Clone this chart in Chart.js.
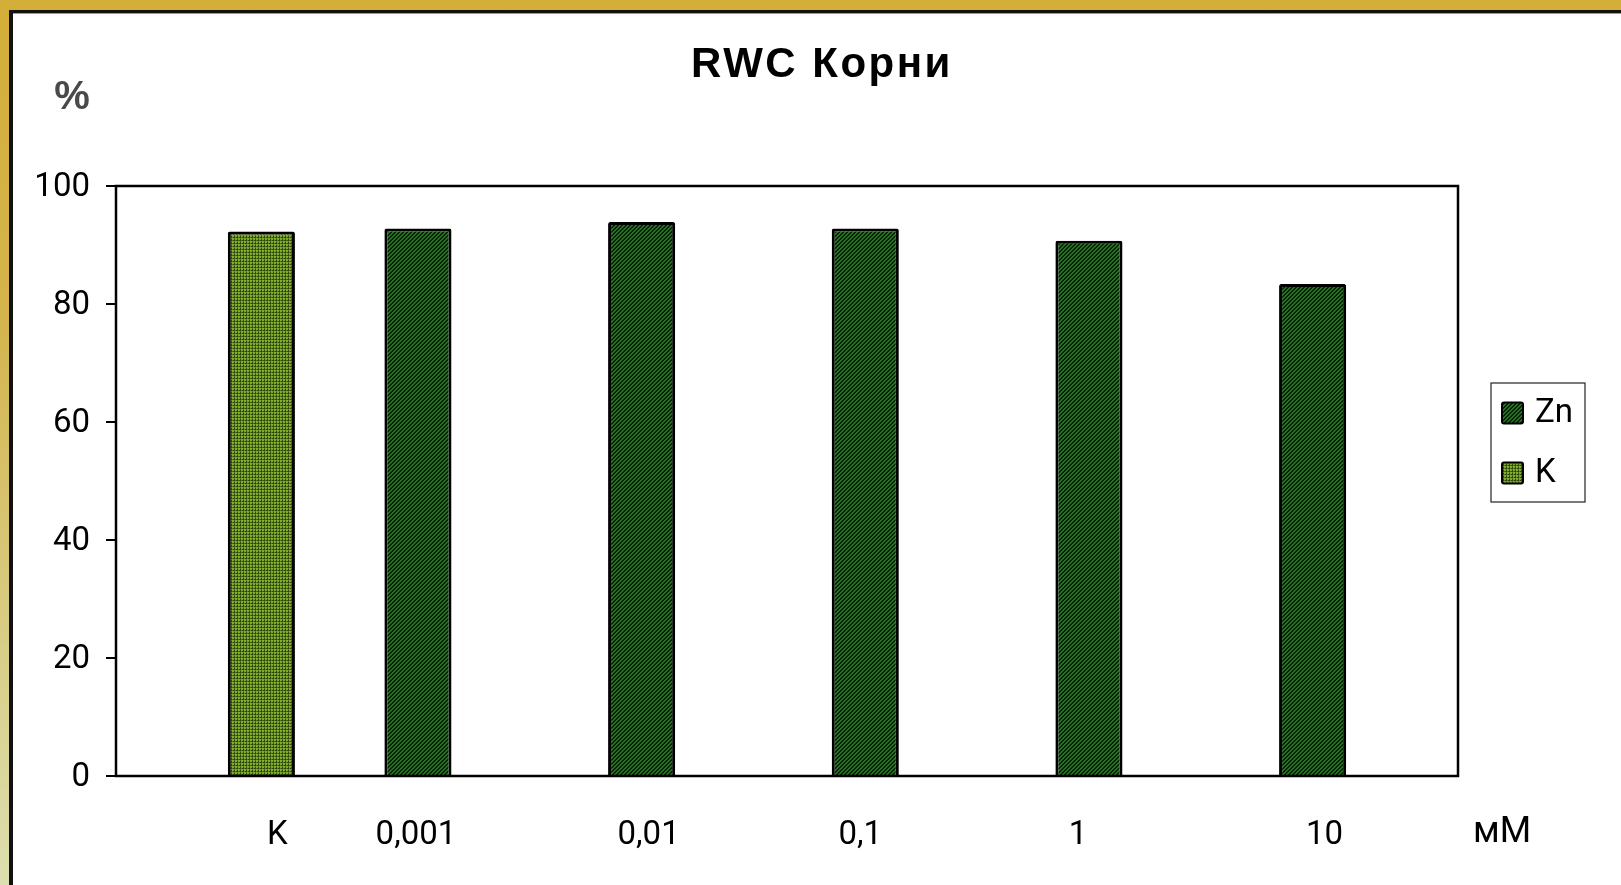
<!DOCTYPE html>
<html>
<head>
<meta charset="utf-8">
<title>RWC Корни</title>
<script src="https://cdn.jsdelivr.net/npm/chart.js@4/dist/chart.umd.min.js"></script>
<style>
  html, body { margin: 0; padding: 0; }
  body {
    width: 1621px; height: 885px; overflow: hidden; position: relative;
    background: linear-gradient(to bottom, #d3ae38 0%, #d4b44c 35%, #dcdfb0 100%);
  }
  #card {
    position: absolute; left: 9px; top: 10px; right: 0; bottom: 0;
    background: #fff;
    border-top: 3px solid #111; border-left: 4px solid #111;
    box-shadow: inset 0 1px 0 #9a9a9a;
  }
  #chart { position: absolute; left: 0; top: 0; }
</style>
</head>
<body>
<div id="card"></div>
<canvas id="chart" width="1621" height="885"></canvas>
<script>
// Concentrations (mM) and relative water content of roots, %
const categories = ['K', '0,001', '0,01', '0,1', '1', '10'];
const znValues   = [null, 92.8, 93.9, 92.8, 90.7, 83.4];
const kValues    = [92.3, null, null, null, null, null];
const yTicks     = [0, 20, 40, 60, 80, 100];
const seriesNames = ['Zn', 'K'];
const titleText = 'RWC Корни';
const yUnit = '%';
const xUnit = 'мМ';

// Hand-set horizontal nudges (px) of the category captions relative to their bars
const captionShift = [16, -2, 7, -5, -11, 12];

const FONT = 'Roboto, "Liberation Sans", sans-serif';

// Small tiled fills: diagonal hatch for Zn, dotted mesh for the control
function makePattern(size, pick) {
  const c = document.createElement('canvas');
  c.width = size; c.height = size;
  const g = c.getContext('2d');
  const img = g.createImageData(size, size);
  for (let y = 0; y < size; y++) {
    for (let x = 0; x < size; x++) {
      const col = pick(x, y);
      const i = (y * size + x) * 4;
      img.data[i] = col[0]; img.data[i + 1] = col[1]; img.data[i + 2] = col[2]; img.data[i + 3] = 255;
    }
  }
  g.putImageData(img, 0, 0);
  return g.createPattern(c, 'repeat');
}
const ctx0 = document.getElementById('chart').getContext('2d');
const znFill = makePattern(4, (x, y) => ((x + y) % 4 < 2) ? [40, 112, 36] : [10, 36, 10]);
const kFill = makePattern(3, (x, y) => (x === 0 || y === 0) ? ((x + y) % 2 === 0 ? [46, 68, 10] : [86, 124, 28]) : [128, 172, 46]);

// Plot frame, title, category captions, unit labels and boxed legend
const decorations = {
  id: 'decorations',
  afterDatasetsDraw(chart) {
    const { ctx, chartArea: a } = chart;
    ctx.save();
    ctx.strokeStyle = '#000';
    ctx.lineWidth = 2.5;
    ctx.strokeRect(a.left, a.top, a.right - a.left, a.bottom - a.top);

    // title
    ctx.fillStyle = '#000';
    ctx.font = 'bold 42px "Liberation Sans", Arial, sans-serif';
    ctx.textAlign = 'center';
    ctx.textBaseline = 'alphabetic';
    if ('letterSpacing' in ctx) ctx.letterSpacing = '2.5px';
    ctx.fillText(titleText, 822, 77);
    if ('letterSpacing' in ctx) ctx.letterSpacing = '0px';

    // category captions under the bars
    ctx.font = '33px ' + FONT;
    ctx.textBaseline = 'middle';
    categories.forEach((lab, i) => {
      let x = null;
      chart.data.datasets.forEach((ds, d) => {
        if (ds.data[i] !== null) x = chart.getDatasetMeta(d).data[i].x;
      });
      ctx.fillText(lab, x + captionShift[i], a.bottom + 60);
    });
    ctx.font = '36px ' + FONT;
    ctx.fillText(xUnit, a.right + 44, a.bottom + 57);

    // y unit
    ctx.fillStyle = '#4a4a4a';
    ctx.font = 'bold 40px "Liberation Sans", Arial, sans-serif';
    ctx.fillText(yUnit, 72, 98);

    // legend
    const lx = a.right + 33, ly = a.top + 197, lw = 94, lh = 119;
    ctx.strokeStyle = '#222';
    ctx.lineWidth = 1.2;
    ctx.strokeRect(lx, ly, lw, lh);
    chart.data.datasets.forEach((ds, d) => {
      const cy = ly + 30 + d * 60;
      ctx.fillStyle = ds.backgroundColor;
      ctx.beginPath();
      ctx.roundRect(lx + 11, cy - 10.5, 21, 21, 2);
      ctx.fill();
      ctx.lineWidth = 2;
      ctx.strokeStyle = '#000';
      ctx.stroke();
      ctx.fillStyle = '#000';
      ctx.font = '33px ' + FONT;
      ctx.textAlign = 'left';
      ctx.fillText(ds.label, lx + 44, cy + 1);
    });
    ctx.restore();
  }
};

new Chart(ctx0, {
  type: 'bar',
  data: {
    labels: categories,
    datasets: [
      { label: seriesNames[0], data: znValues, backgroundColor: znFill },
      { label: seriesNames[1], data: kValues, backgroundColor: kFill }
    ]
  },
  options: {
    responsive: false,
    animation: false,
    devicePixelRatio: 1,
    layout: { padding: { top: 186, left: 16, right: 163, bottom: 0 } },
    datasets: {
      bar: {
        categoryPercentage: 0.6,
        barPercentage: 1.0,
        borderColor: '#000',
        borderWidth: 3,
        borderRadius: 2,
        borderSkipped: 'start'
      }
    },
    plugins: {
      legend: { display: false },
      tooltip: { enabled: false },
      title: { display: false }
    },
    scales: {
      x: {
        type: 'category',
        grid: { display: false },
        border: { display: false },
        ticks: { display: false },
        afterFit(scale) { scale.height = 109; }
      },
      y: {
        min: 0,
        max: 100,
        afterBuildTicks(scale) { scale.ticks = yTicks.map(v => ({ value: v })); },
        grid: { display: true, drawOnChartArea: false, drawTicks: true, tickLength: 10, color: '#000', lineWidth: 2 },
        border: { display: false },
        ticks: {
          color: '#000',
          padding: 16,
          labelOffset: 2,
          font: { family: FONT, size: 33 }
        },
        afterFit(scale) { scale.width = 100; }
      }
    }
  },
  plugins: [decorations]
});
</script>
</body>
</html>
